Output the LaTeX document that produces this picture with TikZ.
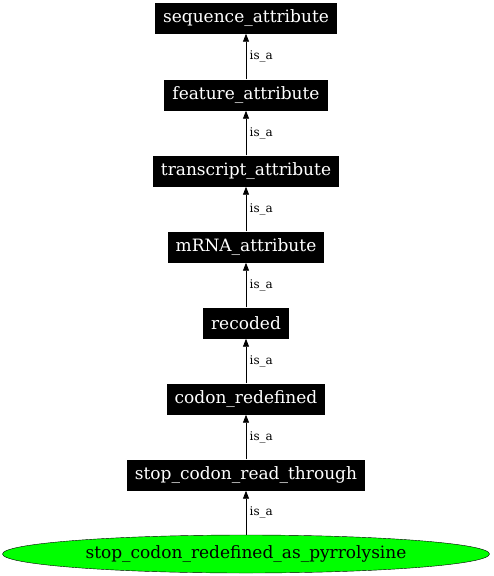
\documentclass[tikz,border=0pt]{standalone}
\usepackage{fontspec}
\setmainfont{DejaVu Serif}
\usetikzlibrary{arrows.meta,shapes.geometric}

\begin{document}
\begin{tikzpicture}[x=1pt, y=-1pt,
    termbox/.style={fill=black, text=white, font=\fontsize{17}{20}\selectfont,
        minimum height=31pt, inner xsep=8pt, inner ysep=0pt},
    leafterm/.style={ellipse, draw=black, fill=green, font=\fontsize{17}{20}\selectfont,
        minimum width=487pt, minimum height=38pt, inner sep=0pt},
    isa/.style={-{Triangle[length=8pt, width=6pt]}, black, line width=0.8pt},
    isalabel/.style={right, font=\fontsize{12}{14}\selectfont}]
    \useasboundingbox (0,0) rectangle (493,576);

    % Ancestor terms, one box per row
    \foreach \name/\txt/\ypos in {seq/sequence\_attribute/18, feat/feature\_attribute/95,
        transcript/transcript\_attribute/171, mrna/mRNA\_attribute/247,
        recoded/recoded/323, redefined/codon\_redefined/399,
        readthrough/stop\_codon\_read\_through/475} {
        \node[termbox] (\name) at (246, \ypos) {\txt};
    }

    % Leaf term
    \node[leafterm] (pyrrolysine) at (246, 554) {stop\_codon\_redefined\_as\_pyrrolysine};

    % is_a edges, child to parent
    \foreach \child/\parent in {feat/seq, transcript/feat, mrna/transcript,
        recoded/mrna, redefined/recoded, readthrough/redefined, pyrrolysine/readthrough} {
        \draw[isa] (\child) -- node[isalabel] {is\_a} (\parent);
    }
\end{tikzpicture}
\end{document}
